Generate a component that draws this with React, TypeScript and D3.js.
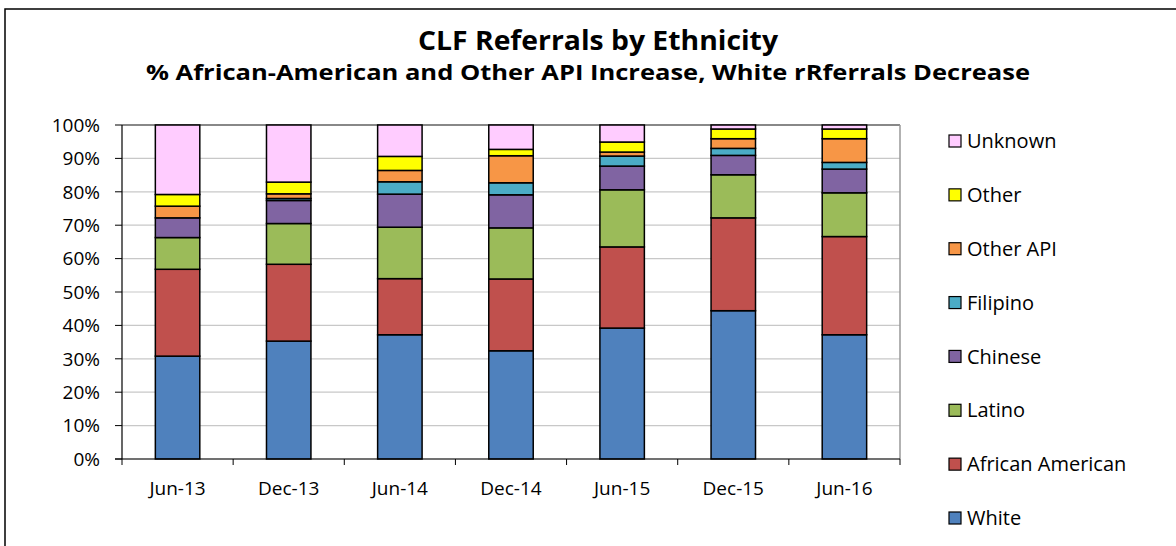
import React from 'react';
import * as d3 from 'd3';

// categories
const periods = ['Jun-13', 'Dec-13', 'Jun-14', 'Dec-14', 'Jun-15', 'Dec-15', 'Jun-16'];

// series values (% of referrals)
const white = [30.8, 35.3, 37.2, 32.4, 39.2, 44.4, 37.2];
const africanAmerican = [26.0, 23.0, 16.8, 21.5, 24.3, 27.8, 29.4];
const latino = [9.5, 12.2, 15.4, 15.3, 17.1, 12.9, 13.1];
const chinese = [5.9, 6.9, 9.9, 9.9, 7.1, 5.8, 7.1];
const filipino = [0, 0.6, 3.7, 3.6, 3.0, 2.1, 2.0];
const otherApi = [3.5, 1.4, 3.4, 8.1, 1.2, 2.9, 7.1];
const other = [3.5, 3.5, 4.2, 1.9, 3.0, 2.9, 2.9];
const unknown = [20.8, 17.1, 9.4, 7.3, 5.1, 1.2, 1.2];

const seriesNames = ['White', 'African American', 'Latino', 'Chinese', 'Filipino', 'Other API', 'Other', 'Unknown'];
const seriesValues = [white, africanAmerican, latino, chinese, filipino, otherApi, other, unknown];
const colors = ['#4f81bd', '#c0504d', '#9bbb59', '#8064a2', '#4bacc6', '#f79646', '#ffff00', '#ffccff'];

const yTicks = [0, 10, 20, 30, 40, 50, 60, 70, 80, 90, 100];

const FONT = '"Open Sans", Lato, sans-serif';

export default function App() {
  const W = 1176, H = 546;
  const left = 122, right = 900, top = 125, bottom = 459;

  const rows = periods.map((p, i) => {
    const r: any = { period: p };
    seriesNames.forEach((s, k) => { r[s] = seriesValues[k][i]; });
    return r;
  });
  const stacked = d3.stack().keys(seriesNames)(rows);

  const x = d3.scaleBand().domain(periods).range([left, right]).paddingInner(0.6).paddingOuter(0.3);
  const xEdge = d3.scaleLinear().domain([0, periods.length]).range([left, right]);
  const y = d3.scaleLinear().domain([0, 100]).range([bottom, top]);

  const legendY = d3.scalePoint().domain(seriesNames.slice().reverse()).range([141, 518]);

  return (
    <svg width={W} height={H} style={{ position: 'absolute', left: 0, top: 0 }}>
      <rect x={0} y={0} width={W} height={H} fill="#fff" />
      <rect x={5} y={9} width={1200} height={600} fill="none" stroke="#000" strokeWidth={1.5} />

      <text x={598} y={50} textAnchor="middle" fontFamily={FONT} fontWeight="bold" fontSize={26}
        textLength={360} lengthAdjust="spacingAndGlyphs">
        CLF Referrals by Ethnicity
      </text>
      <text x={588} y={80} textAnchor="middle" fontFamily={FONT} fontWeight="bold" fontSize={22}
        textLength={884} lengthAdjust="spacingAndGlyphs">
        % African-American and Other API Increase, White rRferrals Decrease
      </text>

      {/* gridlines */}
      {yTicks.map(t => (
        <line key={t} x1={left} x2={right} y1={y(t)} y2={y(t)} stroke={t === 100 ? '#888' : '#c8c8c8'} strokeWidth={t === 100 ? 2 : 1.2} />
      ))}
      <line x1={right} x2={right} y1={top} y2={bottom} stroke="#999" strokeWidth={1.5} />

      {/* bars */}
      {stacked.map((layer, k) => (
        <g key={layer.key}>
          {layer.map((d, i) => (
            d[1] - d[0] > 0 ? (
              <rect key={i} x={x(periods[i])} width={x.bandwidth()} y={y(d[1])} height={y(d[0]) - y(d[1])}
                fill={colors[k]} stroke="#000" strokeWidth={1.5} />
            ) : null
          ))}
        </g>
      ))}

      {/* y axis */}
      <line x1={left} x2={left} y1={top} y2={bottom} stroke="#000" strokeWidth={1.2} />
      {yTicks.map(t => (
        <g key={t}>
          <line x1={left - 7} x2={left} y1={y(t)} y2={y(t)} stroke="#000" />
          <text x={100} y={y(t)} dy="0.36em" textAnchor="end" fontFamily={FONT} fontSize={19}>{t}%</text>
        </g>
      ))}

      {/* x axis */}
      <line x1={left - 7} x2={right} y1={bottom} y2={bottom} stroke="#000" strokeWidth={1.2} />
      {d3.range(periods.length + 1).map(i => (
        <line key={i} x1={xEdge(i)} x2={xEdge(i)} y1={bottom} y2={bottom + 6} stroke="#000" />
      ))}
      {periods.map(p => (
        <text key={p} x={(x(p) ?? 0) + x.bandwidth() / 2} y={495} textAnchor="middle" fontFamily={FONT} fontSize={19}>{p}</text>
      ))}

      {/* legend */}
      {seriesNames.map((s, k) => (
        <g key={s} transform={`translate(949,${legendY(s)})`}>
          <rect x={0} y={-6} width={12} height={12} fill={colors[k]} stroke="#000" strokeWidth={1.2} />
          <text x={18} y={0} dy="0.36em" fontFamily={FONT} fontSize={20}>{s}</text>
        </g>
      ))}
    </svg>
  );
}
